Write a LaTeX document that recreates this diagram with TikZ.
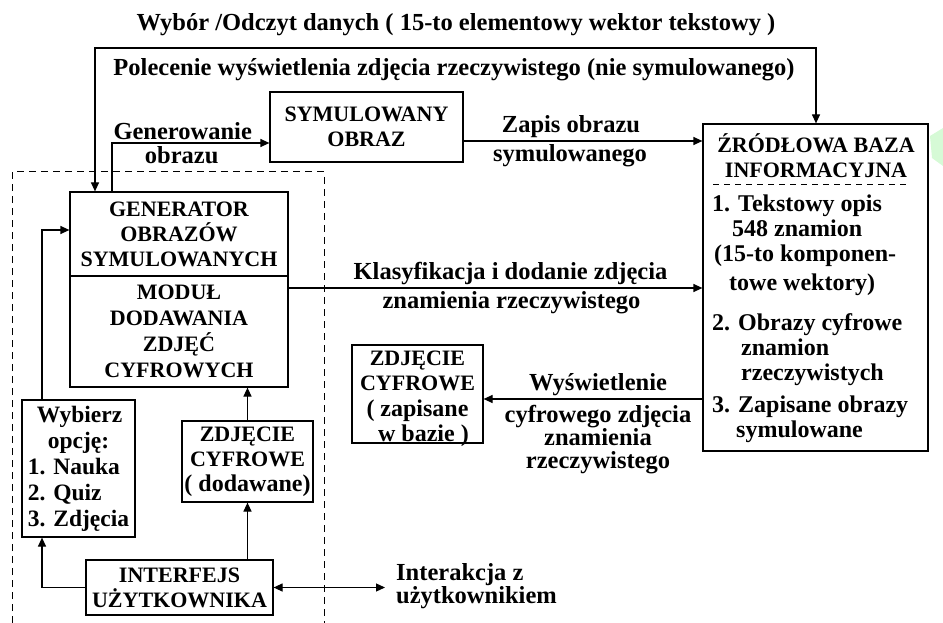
\documentclass[tikz,border=0pt]{standalone}
\usepackage{fontspec}
\setmainfont{Liberation Serif}
\usetikzlibrary{arrows.meta}
\definecolor{paleGreen}{RGB}{214,250,214}
\newcommand\duze{\fontsize{24}{25}\selectfont}
\tikzset{
  txt/.style={font=\bfseries\fontsize{22}{25}\selectfont, inner sep=0pt, align=center},
  tekst/.style={font=\bfseries\fontsize{24.5}{25}\selectfont, inner sep=0pt, align=center},
  blok/.style={txt, draw, line width=1.2pt},
  opis/.style={font=\bfseries\fontsize{24.5}{23}\selectfont, inner sep=3pt, align=center},
  strzal/.style={line width=1.2pt, -{Triangle[length=9pt,width=8pt]}},
  dwustrzal/.style={line width=1.2pt, {Triangle[length=9pt,width=8pt]}-{Triangle[length=9pt,width=8pt]}},
  ramka/.style={line width=1pt, dash pattern=on 7pt off 5pt}
}
\begin{document}
\begin{tikzpicture}[x=1pt,y=-1pt]
  \useasboundingbox (0,0) rectangle (943,623);
  % Marking pale green spot at the right edge
  \fill[paleGreen] (930,136) -- (943,128) -- (943,166) -- (932,158) -- cycle;%

  % Drawing dashed frame round the user part
  \draw[ramka] (12,623) -- (12,172) -- (324,172) -- (324,623);%

  % Marking boxes
  \node[blok, minimum width=193pt, minimum height=70pt] (sym) at (366.5,127) {SYMULOWANY\\OBRAZ};%
  \node[blok, minimum width=218pt, minimum height=84pt] (gen) at (179,234) {GENERATOR\\OBRAZÓW\\SYMULOWANYCH};%
  \node[blok, font=\bfseries\fontsize{22}{26}\selectfont, minimum width=218pt, minimum height=111pt] (modul) at (179,331.5)
    {MODUŁ\\DODAWANIA\\ZDJĘĆ\\CYFROWYCH};%
  \node[blok, align=left, font=\bfseries\fontsize{23.5}{26}\selectfont, minimum width=113pt, minimum height=137pt] (wyb) at (78.5,468.5)
    {\hspace*{9pt}Wybierz\\\hspace*{20pt}opcję:\\1. Nauka\\2. Quiz\\3. Zdjęcia};%
  \node[blok, minimum width=131pt, minimum height=81pt] (dod) at (247.5,461.5) {ZDJĘCIE\\CYFROWE\\{\duze( dodawane)}};%
  \node[blok, minimum width=187pt, minimum height=55pt] (inter) at (179.5,587.5) {INTERFEJS\\UŻYTKOWNIKA};%
  \node[blok, minimum width=131pt, minimum height=98pt] (zap) at (417.5,394) {};%
  \node[txt, font=\bfseries\fontsize{22}{25.5}\selectfont] (zaptxt) at ([yshift=-5pt]zap.center)
    {ZDJĘCIE\\CYFROWE\\{\duze( zapisane}\\{\duze\ \ w bazie )}};%
  \node[blok, minimum width=225pt, minimum height=327pt] (baza) at (815.5,287.5) {};%

  % Marking texts inside the data base box
  \node[txt] (bazatyt) at (816,156) {ŹRÓDŁOWA BAZA\\INFORMACYJNA};%
  \draw[line width=1pt, dash pattern=on 6pt off 5pt] (713,185) -- (910,185);%
  \node[txt, font=\bfseries\duze, align=left, anchor=north west] (bazalista) at (712,195)
    {1. Tekstowy opis\\
     \hspace*{20pt}548 znamion\\
     \hspace*{2pt}(15-to komponen-\\[4pt]
     \hspace*{17pt}towe wektory)\\[15pt]
     2. Obrazy cyfrowe\\
     \hspace*{29pt}znamion\\
     \hspace*{29pt}rzeczywistych\\[7pt]
     3. Zapisane obrazy\\
     \hspace*{24pt}symulowane};%

  % Drawing top connector with its two texts
  \coordinate (topl) at (95,48);%
  \coordinate (topr) at (816,48);%
  \draw[dwustrzal] (topl |- gen.north) -- (topl) -- (topr) -- (topr |- baza.north);%
  \node[tekst] (wybor) at (456,25) {Wybór /Odczyt danych ( 15-to elementowy wektor tekstowy )};%
  \node[tekst] (polecenie) at (454,70) {Polecenie wyświetlenia zdjęcia rzeczywistego (nie symulowanego)};%

  % Drawing generator to simulated image
  \draw[strzal] ([xshift=-67pt]gen.north) |- ([yshift=-16pt]sym.west)
    node[opis, pos=0.75, above, xshift=-8pt] {Generowanie} node[opis, pos=0.75, below, xshift=-9pt] {obrazu};%

  % Drawing simulated image to data base
  \draw[strzal] ([yshift=-14pt]sym.east) -- ([yshift=-14pt]sym.east -| baza.west)
    node[opis, midway, above, xshift=-12pt] {Zapis obrazu}
    node[opis, midway, below, xshift=-13pt] {symulowanego};%

  % Drawing classification to data base
  \draw[strzal] ([yshift=43.5pt]modul.east) -- ([yshift=43.5pt]modul.east -| baza.west)
    node[opis, midway, above, xshift=15pt] {Klasyfikacja i dodanie zdjęcia}
    node[opis, midway, below, xshift=16pt] {znamienia rzeczywistego};%

  % Drawing data base to stored image
  \coordinate (zapwe) at ([yshift=-5pt]zap.east);%
  \draw[strzal] (baza.west |- zapwe) -- (zapwe)
    node[opis, midway, above, xshift=5pt] {Wyświetlenie}
    node[opis, midway, below, xshift=5pt, yshift=-3pt] {cyfrowego zdjęcia\\znamienia\\rzeczywistego};%

  % Drawing connectors inside the dashed frame
  \draw[strzal] ([xshift=-36.5pt]wyb.north) |- ([yshift=4pt]gen.west);%
  \draw[strzal] (dod.north) -- (dod.north |- modul.south);%
  \draw[strzal] (inter.north -| dod) -- (dod.south);%
  \draw[strzal] (inter.west) -| ([xshift=-36.5pt]wyb.south);%

  % Drawing interaction with the user
  \coordinate (user) at (385,587.5);%
  \draw[dwustrzal] (inter.east) -- (user);%
  \node[opis, align=left, anchor=west] (interakcja) at (393,586) {Interakcja z\\użytkownikiem};%
\end{tikzpicture}
\end{document}
